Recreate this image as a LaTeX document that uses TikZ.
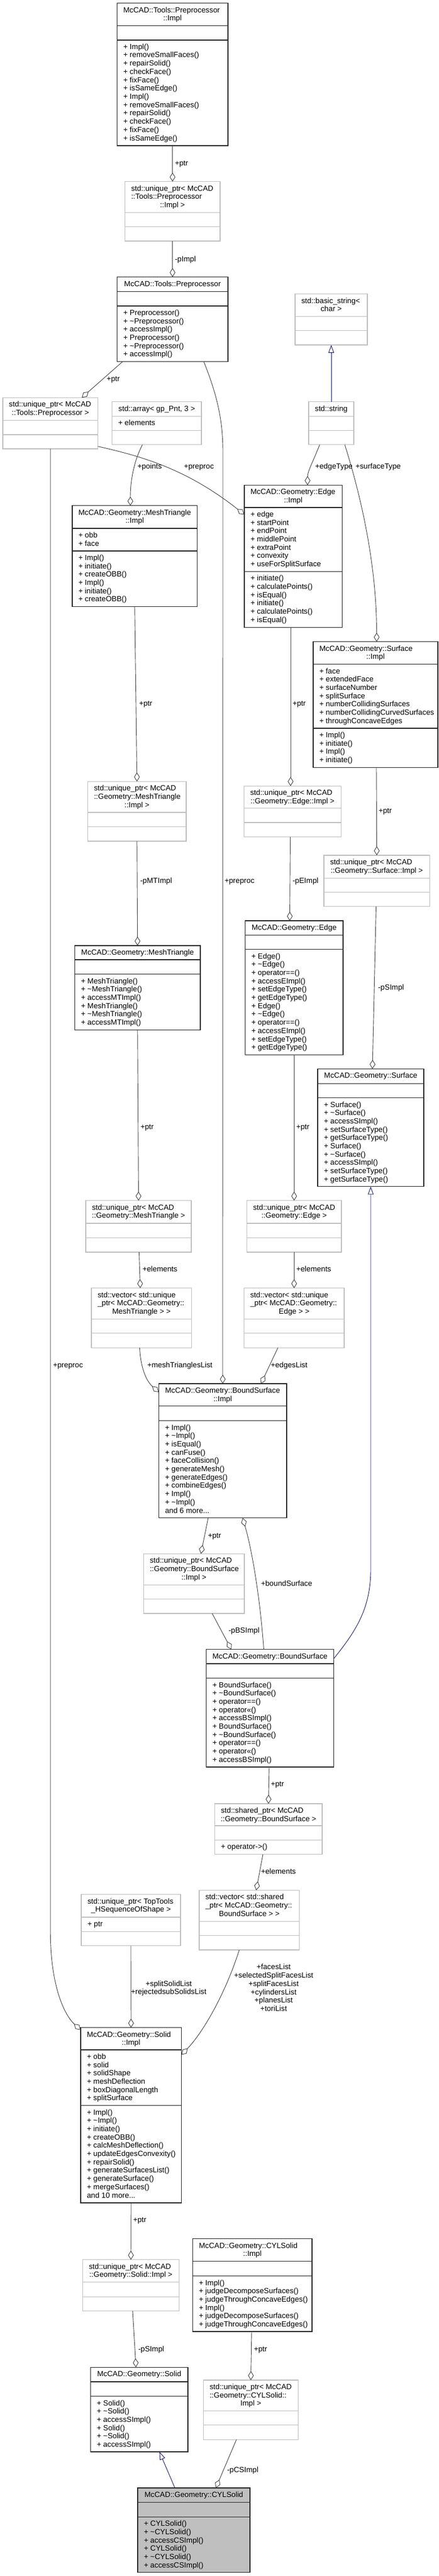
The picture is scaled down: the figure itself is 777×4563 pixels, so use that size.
\documentclass[tikz,border=0pt]{standalone}
\usepackage{fontspec}
\setmainfont{Liberation Sans}
\usetikzlibrary{arrows.meta}
\definecolor{edgegray}{HTML}{404040}
\definecolor{boxgray}{HTML}{BFBFBF}
\definecolor{inhblue}{HTML}{191970}
\definecolor{boxdark}{HTML}{262626}
\tikzset{
 txt/.style={inner sep=0pt, outer sep=0pt, font=\fontsize{13.33}{14.7}\selectfont, text=black},
 dbox/.style={rectangle, draw=boxdark, line width=1.3pt, fill=white, inner sep=0pt, outer sep=0pt},
 lbox/.style={rectangle, draw=boxgray, line width=1.3pt, fill=white, inner sep=0pt, outer sep=0pt},
 hbox/.style={dbox, fill=boxgray},
 dsep/.style={draw=boxdark, line width=1.3pt},
 lsep/.style={draw=boxgray, line width=1.3pt},
 hsep/.style={dsep},
 agg/.style={draw=edgegray, line width=0.9pt, -{Diamond[open, length=16pt, width=10pt]}},
 inh/.style={draw=inhblue, line width=0.9pt, -{Triangle[open, length=14pt, width=10pt]}},
 elabel/.style={txt, anchor=base west},
 clabel/.style={txt, anchor=base},
}
\newcommand\umlbox[8]{%
 \pgfmathsetmacro\bw{#4-#3}\pgfmathsetmacro\bh{#8-#5}%
 \node[#2box, minimum width=\bw pt, minimum height=\bh pt, anchor=north west] (#1) at (#3,#5) {};
 \draw[#2sep] (#3,#6) -- (#4,#6) (#3,#7) -- (#4,#7);}
\newcommand\ltext[4]{\foreach \lin [count=\ii] in {#4}{\node[txt, anchor=base west] (#1\ii) at (#2,{#3+(\ii-1)*14.7}) {\lin};}}
\newcommand\ctext[4]{\node[txt, anchor=base] (#1) at (#2,#3) {#4};}
\newcommand\elab[4]{\node[elabel] (#1) at (#2,#3) {#4};}
\newcommand\clab[4]{\node[clabel] (#1) at (#2,#3) {#4};}
\newcommand\tl{\textasciitilde}
\begin{document}
\begin{tikzpicture}[x=1pt,y=-1pt]
\useasboundingbox (0,0) rectangle (777,4563);
\fill[white] (0,0) rectangle (777,4563);
% ---------------- boxes ----------------
\umlbox{A}{d}{207.5}{404}{5.7}{45.7}{71}{258}
\ltext{A-t}{218.5}{22.2}{McCAD::Tools::Preprocessor}
\ctext{A-c}{305.75}{36.9}{::Impl}
\ltext{A-m}{218.5}{87.3}{+ Impl(), + removeSmallFaces(), + repairSolid(), + checkFace(), + fixFace(), + isSameEdge(), + Impl(), + removeSmallFaces(), + repairSolid(), + checkFace(), + fixFace(), + isSameEdge()}

\umlbox{B}{l}{221.5}{390}{321.7}{376.7}{401.7}{427}
\ltext{B-t}{232.5}{338.2}{std::unique\_ptr< McCAD, ::Tools::Preprocessor}
\ctext{B-c}{305.75}{367.6}{::Impl >}

\umlbox{C}{d}{207.5}{404}{490.7}{516.7}{542}{640.3}
\ctext{C-c}{305.75}{507.2}{McCAD::Tools::Preprocessor}
\ltext{C-m}{218.5}{558.3}{+ Preprocessor(), + \tl Preprocessor(), + accessImpl(), + Preprocessor(), + \tl Preprocessor(), + accessImpl()}

\umlbox{D}{l}{523}{651}{520.7}{560.7}{585.7}{611}
\ltext{D-t}{534}{537.2}{std::basic\_string<}
\ctext{D-c}{587}{551.9}{char >}

\umlbox{E}{l}{547}{627}{711.7}{737.3}{762.7}{787.7}
\ctext{E-c}{587}{728.2}{std::string}

\umlbox{F}{l}{5}{173.5}{704.3}{744.3}{770}{795}
\ltext{F-t}{16}{720.8}{std::unique\_ptr< McCAD}
\ctext{F-c}{89.25}{735.5}{::Tools::Preprocessor >}

\umlbox{G}{l}{198.5}{357}{711.7}{737.3}{762.7}{787.7}
\ctext{G-c}{277.75}{728.2}{std::array< gp\_Pnt, 3 >}
\ltext{G-a}{209.5}{753.6}{+ elements}

\umlbox{H}{d}{128}{349.5}{895.7}{936}{976}{1074.7}
\ltext{H-t}{139}{912.2}{McCAD::Geometry::MeshTriangle}
\ctext{H-c}{238.75}{926.9}{::Impl}
\ltext{H-a}{139}{952.3}{+ obb, + face}
\ltext{H-m}{139}{992.3}{+ Impl(), + initiate(), + createOBB(), + Impl(), + initiate(), + createOBB()}

\umlbox{I}{d}{433}{606.5}{859.3}{899}{1012.3}{1111.3}
\ltext{I-t}{444}{875.8}{McCAD::Geometry::Edge}
\ctext{I-c}{519.75}{890.5}{::Impl}
\ltext{I-a}{444}{915.3}{+ edge, + startPoint, + endPoint, + middlePoint, + extraPoint, + convexity, + useForSplitSurface}
\ltext{I-m}{444}{1028.6}{+ initiate(), + calculatePoints(), + isEqual(), + initiate(), + calculatePoints(), + isEqual()}

\umlbox{J}{d}{555}{776}{1136.7}{1176.7}{1290}{1359.3}
\ltext{J-t}{566}{1153.2}{McCAD::Geometry::Surface}
\ctext{J-c}{665.5}{1167.9}{::Impl}
\ltext{J-a}{566}{1193}{+ face, + extendedFace, + surfaceNumber, + splitSurface, + numberCollidingSurfaces, + numberCollidingCurvedSurfaces, + throughConcaveEdges}
\ltext{J-m}{566}{1306.3}{+ Impl(), + initiate(), + Impl(), + initiate()}

\umlbox{K}{l}{155.5}{330}{1384.3}{1439}{1464.7}{1490}
\ltext{K-t}{166.5}{1400.8}{std::unique\_ptr< McCAD, ::Geometry::MeshTriangle}
\ctext{K-c}{242.75}{1430.2}{::Impl >}

\umlbox{L}{l}{432.5}{604.5}{1392.3}{1431.7}{1457}{1482.7}
\ltext{L-t}{443.5}{1408.8}{std::unique\_ptr< McCAD}
\ctext{L-c}{518.5}{1423.5}{::Geometry::Edge::Impl >}

\umlbox{M}{l}{574}{761.5}{1515}{1555.3}{1580.3}{1605.7}
\ltext{M-t}{585}{1531.5}{std::unique\_ptr< McCAD}
\ctext{M-c}{667.75}{1546.2}{::Geometry::Surface::Impl >}

\umlbox{N}{d}{132.5}{355}{1675}{1700}{1725.7}{1824.7}
\ctext{N-c}{243.75}{1691.5}{McCAD::Geometry::MeshTriangle}
\ltext{N-m}{143.5}{1742}{+ MeshTriangle(), + \tl MeshTriangle(), + accessMTImpl(), + MeshTriangle(), + \tl MeshTriangle(), + accessMTImpl()}

\umlbox{O}{d}{434.5}{608}{1631}{1656.3}{1681.7}{1868.3}
\ctext{O-c}{521.25}{1647.5}{McCAD::Geometry::Edge}
\ltext{O-m}{445.5}{1698}{+ Edge(), + \tl Edge(), + operator==(), + accessEImpl(), + setEdgeType(), + getEdgeType(), + Edge(), + \tl Edge(), + operator==(), + accessEImpl(), + setEdgeType(), + getEdgeType()}

\umlbox{P}{d}{563}{751}{1893.3}{1919.3}{1944.7}{2101.7}
\ctext{P-c}{657}{1909.8}{McCAD::Geometry::Surface}
\ltext{P-m}{574}{1961}{+ Surface(), + \tl Surface(), + accessSImpl(), + setSurfaceType(), + getSurfaceType(), + Surface(), + \tl Surface(), + accessSImpl(), + setSurfaceType(), + getSurfaceType()}

\umlbox{Q}{l}{152}{339}{2126.7}{2167}{2192.3}{2218}
\ltext{Q-t}{163}{2143.2}{std::unique\_ptr< McCAD}
\ctext{Q-c}{245.5}{2157.9}{::Geometry::MeshTriangle >}

\umlbox{R}{l}{437.5}{605}{2126.7}{2167}{2192.3}{2218}
\ltext{R-t}{448.5}{2143.2}{std::unique\_ptr< McCAD}
\ctext{R-c}{521.25}{2157.9}{::Geometry::Edge >}

\umlbox{S}{l}{162}{339.5}{2281.7}{2336.7}{2361.7}{2387.3}
\ltext{S-t}{173}{2298.2}{std::vector< std::unique, \_ptr< McCAD::Geometry::}
\ctext{S-c}{250.75}{2327.6}{MeshTriangle > >}

\umlbox{T}{l}{432.5}{610}{2281.7}{2336.7}{2361.7}{2387.3}
\ltext{T-t}{443.5}{2298.2}{std::vector< std::unique, \_ptr< McCAD::Geometry::}
\ctext{T-c}{521.25}{2327.6}{Edge > >}

\umlbox{U}{d}{281.5}{508}{2451}{2490.7}{2516.7}{2688.7}
\ltext{U-t}{292.5}{2467.5}{McCAD::Geometry::BoundSurface}
\ctext{U-c}{394.75}{2482.2}{::Impl}
\ltext{U-m}{292.5}{2533}{+ Impl(), + \tl Impl(), + isEqual(), + canFuse(), + faceCollision(), + generateMesh(), + generateEdges(), + combineEdges(), + Impl(), + \tl Impl(), and 6 more.{}.{}.}

\umlbox{V}{l}{254.5}{433}{2752.3}{2807.3}{2832.7}{2858}
\ltext{V-t}{265.5}{2768.8}{std::unique\_ptr< McCAD, ::Geometry::BoundSurface}
\ctext{V-c}{343.75}{2798.2}{::Impl >}

\umlbox{W}{d}{365.5}{591.5}{2921.7}{2947}{2972.7}{3130}
\ctext{W-c}{478.5}{2938.2}{McCAD::Geometry::BoundSurface}
\ltext{W-m}{376.5}{2989}{+ BoundSurface(), + \tl BoundSurface(), + operator==(), + operator<<(), + accessBSImpl(), + BoundSurface(), + \tl BoundSurface(), + operator==(), + operator<<(), + accessBSImpl()}

\umlbox{X}{l}{380.5}{571}{3195}{3234}{3259.3}{3284.7}
\ltext{X-t}{391.5}{3211.5}{std::shared\_ptr< McCAD}
\ctext{X-c}{475.75}{3226.2}{::Geometry::BoundSurface >}
\ltext{X-m}{391.5}{3275.6}{+ operator->()}

\umlbox{Y}{l}{353}{530.5}{3348.3}{3403.3}{3428.7}{3454}
\ltext{Y-t}{364}{3364.8}{std::vector< std::shared, \_ptr< McCAD::Geometry::}
\ctext{Y-c}{441.75}{3394.2}{BoundSurface > >}

\umlbox{Z}{l}{144}{320}{3355.7}{3396}{3421.3}{3446.7}
\ltext{Z-t}{155}{3372.2}{std::unique\_ptr< TopTools}
\ctext{Z-c}{232}{3386.9}{\_HSequenceOfShape >}
\ltext{Z-a}{155}{3412.3}{+ ptr}

\umlbox{AA}{d}{143}{321.5}{3591.7}{3631}{3729.7}{3902}
\ltext{AA-t}{154}{3608.2}{McCAD::Geometry::Solid}
\ctext{AA-c}{232.25}{3622.9}{::Impl}
\ltext{AA-a}{154}{3647.3}{+ obb, + solid, + solidShape, + meshDeflection, + boxDiagonalLength, + splitSurface}
\ltext{AA-m}{154}{3746}{+ Impl(), + \tl Impl(), + initiate(), + createOBB(), + calcMeshDeflection(), + updateEdgesConvexity(), + repairSolid(), + generateSurfacesList(), + generateSurface(), + mergeSurfaces(), and 10 more.{}.{}.}

\umlbox{AB}{l}{146.5}{317.5}{4002.7}{4042.7}{4068.3}{4093.3}
\ltext{AB-t}{157.5}{4019.2}{std::unique\_ptr< McCAD}
\ctext{AB-c}{232}{4033.9}{::Geometry::Solid::Impl >}

\umlbox{AC}{d}{341.5}{553}{3965.7}{4005.7}{4031.7}{4130}
\ltext{AC-t}{352.5}{3982.2}{McCAD::Geometry::CYLSolid}
\ctext{AC-c}{447.25}{3996.9}{::Impl}
\ltext{AC-m}{352.5}{4048}{+ Impl(), + judgeDecomposeSurfaces(), + judgeThroughConcaveEdges(), + Impl(), + judgeDecomposeSurfaces(), + judgeThroughConcaveEdges()}

\umlbox{AD}{d}{160.5}{333}{4193.3}{4219}{4244.7}{4343}
\ctext{AD-c}{246.75}{4209.8}{McCAD::Geometry::Solid}
\ltext{AD-m}{171.5}{4261}{+ Solid(), + \tl Solid(), + accessSImpl(), + Solid(), + \tl Solid(), + accessSImpl()}

\umlbox{AE}{l}{360.5}{528.5}{4216}{4270.7}{4295.7}{4321.3}
\ltext{AE-t}{371.5}{4232.5}{std::unique\_ptr< McCAD, ::Geometry::CYLSolid::}
\ctext{AE-c}{444.5}{4261.9}{Impl >}

\umlbox{AF}{h}{244}{443}{4407}{4432.7}{4458.3}{4556.7}
\ctext{AF-c}{343.5}{4423.5}{McCAD::Geometry::CYLSolid}
\ltext{AF-m}{255}{4474.6}{+ CYLSolid(), + \tl CYLSolid(), + accessCSImpl(), + CYLSolid(), + \tl CYLSolid(), + accessCSImpl()}

% ---------------- connectors ----------------
\draw[agg] (A.south) -- (B.north);
\draw[agg] (B.south) -- (C.north);
\draw[agg] ([xshift=-88.25pt]C.south) -- ([xshift=55.75pt]F.north);
\draw[agg] ([xshift=55.25pt]C.south) .. controls (385,700) and (395,745) .. (395,800) -- (U.north);
\draw[agg] (F.south) -- (89.25,3420) .. controls (89.25,3520) and (115,3570) .. ([yshift=-4pt]AA.north west);
\draw[agg] ([yshift=4.3pt]F.south east) .. controls (250,808) and (330,830) .. ([yshift=-52pt]I.north west);
\draw[agg] ([xshift=-25.25pt]G.south) .. controls (238,815) and (231,850) .. ([xshift=-7.75pt]H.north);
\draw[agg] ([xshift=-20.5pt]E.south) .. controls (556,815) and (545,835) .. ([xshift=25.25pt]I.north);
\draw[agg] ([xshift=24pt]E.south) .. controls (640,880) and (667.5,1000) .. ([xshift=2pt]J.north);
\draw[inh] (E.north) -- (D.south);
\draw[agg] (H.south) -- (K.north);
\draw[agg] ([xshift=-4.75pt]I.south) -- ([xshift=-3.5pt]L.north);
\draw[agg] ([xshift=1.5pt]J.south) -- (M.north);
\draw[agg] (K.south) -- (N.north);
\draw[agg] ([xshift=-4pt]L.south) -- ([xshift=-7.75pt]O.north);
\draw[agg] ([xshift=-1.25pt]M.south) -- ([xshift=3pt]P.north);
\draw[agg] (N.south) -- (Q.north);
\draw[agg] (O.south) -- (R.north);
\draw[agg] ([xshift=1pt]Q.south) -- ([xshift=-2.25pt]S.north);
\draw[agg] (R.south) -- (T.north);
\draw[agg] ([xshift=-3.25pt]S.south) .. controls (249,2420) and (258,2445) .. ([yshift=-15pt]U.north west);
\draw[agg] ([xshift=-28.75pt]T.south) -- ([xshift=67.75pt]U.north);
\draw[agg] ([xshift=-25.75pt]U.south) -- ([xshift=12.25pt]V.north);
\draw[agg] ([xshift=-11pt]W.north) .. controls (460,2820) and (445,2740) .. ([xshift=35.25pt]U.south);
\draw[agg] ([xshift=32.25pt]V.south) -- ([xshift=-68.5pt]W.north);
\draw[inh] ([yshift=-16.3pt]W.north east) .. controls (630,2890) and (657,2850) .. (657,2780) -- (P.south);
\draw[agg] ([xshift=-1.5pt]W.south) -- (X.north);
\draw[agg] ([xshift=-9.75pt]X.south) -- ([xshift=12.25pt]Y.north);
\draw[agg] (Z.south) -- (AA.north);
\draw[agg] ([xshift=-17.75pt]Y.south) .. controls (400,3530) and (360,3600) .. ([yshift=-48pt]AA.north east);
\draw[agg] (AA.south) -- (AB.north);
\draw[agg] ([xshift=3pt]AB.south) -- ([xshift=-5.75pt]AD.north);
\draw[agg] ([xshift=-1.25pt]AC.south) -- (AE.north);
\draw[agg] ([xshift=-25.5pt]AE.south) -- ([xshift=39pt]AF.north);
\draw[inh] ([xshift=-33.5pt]AF.north) -- ([xshift=35.75pt]AD.south);

% ---------------- connector labels ----------------
\elab{l1}{310}{293}{+ptr}
\elab{l2}{310}{463}{-pImpl}
\elab{l3}{189}{675.7}{+ptr}
\elab{l4}{398}{1564}{+preproc}
\elab{l5}{94}{2422.3}{+preproc}
\elab{l6}{326}{830.7}{+preproc}
\elab{l7}{243.5}{830.7}{+points}
\elab{l8}{558.5}{830.7}{+edgeType}
\elab{l9}{630}{830.7}{+surfaceType}
\elab{l11}{246.5}{1250.7}{+ptr}
\elab{l12}{518.5}{1250.7}{+ptr}
\elab{l13}{671}{1440.7}{+ptr}
\elab{l14}{248.5}{1564}{-pMTImpl}
\elab{l15}{518.5}{1564}{-pEImpl}
\elab{l16}{670}{1753}{-pSImpl}
\elab{l17}{249}{2000.7}{+ptr}
\elab{l18}{525}{2000.7}{+ptr}
\elab{l19}{252.5}{2252.3}{+elements}
\elab{l20}{525}{2252.3}{+elements}
\elab{l21}{261}{2422.3}{+meshTrianglesList}
\elab{l22}{480}{2422.3}{+edgesList}
\elab{l23}{368.5}{2724}{+ptr}
\elab{l24}{462.5}{2809}{+boundSurface}
\elab{l25}{405}{2892.3}{-pBSImpl}
\elab{l27}{480}{3164.7}{+ptr}
\elab{l28}{462.5}{3319.7}{+elements}
\clab{l29a}{299}{3518.3}{+splitSolidList}
\clab{l29b}{299}{3532.3}{+rejectedsubSolidsList}
\clab{l30a}{485}{3488.3}{+facesList}
\clab{l30b}{485}{3503.3}{+selectedSplitFacesList}
\clab{l30c}{485}{3518.3}{+splitFacesList}
\clab{l30d}{485}{3533}{+cylindersList}
\clab{l30e}{485}{3547.3}{+planesList}
\clab{l30f}{485}{3562.3}{+toriList}
\elab{l31}{236}{3936.7}{+ptr}
\elab{l32}{245}{4165}{-pSImpl}
\elab{l33}{450}{4165}{+ptr}
\elab{l34}{402.5}{4379}{-pCSImpl}
\end{tikzpicture}
\end{document}
